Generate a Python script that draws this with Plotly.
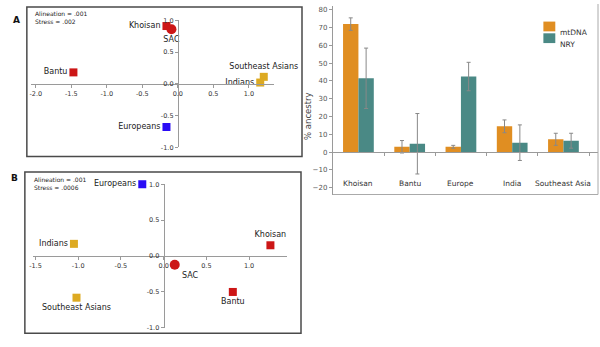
import plotly.graph_objects as go

# ---------------- data ----------------
mds_labels = ["Khoisan", "SAC", "Bantu", "Southeast Asians", "Indians", "Europeans"]
a_dim1 = [-0.16, -0.09, -1.47, 1.21, 1.16, -0.16]
a_dim2 = [0.91, 0.86, 0.18, 0.11, 0.02, -0.68]
b_dim1 = [1.25, 0.13, 0.81, -1.02, -1.05, -0.25]
b_dim2 = [0.15, -0.12, -0.50, -0.58, 0.17, 1.00]
a_stats = ["Alineation = .001", "Stress = .002"]
b_stats = ["Alineation = .001", "Stress = .0006"]

a_xticks = [-2.0, -1.5, -1.0, -0.5, 0.0, 0.5, 1.0]
b_xticks = [-1.5, -1.0, -0.5, 0.0, 0.5, 1.0]
mds_yticks = [-1.0, -0.5, 0.0, 0.5, 1.0]

categories = ["Khoisan", "Bantu", "Europe", "India", "Southeast Asia"]
mtdna = [72.0, 3.0, 3.0, 14.5, 7.2]
mtdna_err = [3.5, 3.5, 0.8, 3.6, 3.4]
nry = [41.5, 4.7, 42.5, 5.3, 6.4]
nry_err = [17.0, 17.0, 8.0, 10.0, 4.2]
bar_yticks = [-20, -10, 0, 10, 20, 30, 40, 50, 60, 70, 80]

# ---------------- styling / layout helpers ----------------
W, H = 600, 347
FONT = "DejaVu Sans"
RED, GOLD, BLUE = "#CC1616", "#DDAA22", "#2A0CF5"
ORANGE, TEAL = "#E08E22", "#4A8985"
AXC = "#9a9a9a"

pt_colors = [RED, RED, RED, GOLD, GOLD, BLUE]
pt_symbols = ["square", "circle", "square", "square", "square", "square"]
pt_sizes = [8, 10, 8, 8, 8, 8]


def px(x):
    return x / W


def py(y):
    return 1 - y / H


def fmt(v):
    return "%.1f" % v


fig = go.Figure()

panels = [
    dict(xs=a_dim1, ys=a_dim2, stats=a_stats, xt=a_xticks, x0=175, sx=71.5, y0=81.7, sy=65,
         xr=[-2.07, 1.35], box=(23, 3, 300, 156), letter=("A", 7, 9),
         tp=["middle left", "bottom center", "middle left", "top center", "middle left", "middle left"],
         ax="", stxy=(29, 4)),
    dict(xs=b_dim1, ys=b_dim2, stats=b_stats, xt=b_xticks, x0=160.7, sx=86, y0=258, sy=73.5,
         xr=[-1.53, 1.45], box=(21, 172, 299, 337), letter=("B", 5, 178),
         tp=["top center", "bottom right", "bottom center", "bottom center", "middle left", "middle left"],
         ax="2", stxy=(28, 174)),
]

shapes = []
annotations = []
layout_axes = {}

for p in panels:
    xa = "x" + p["ax"]
    ya = "y" + p["ax"]
    fig.add_trace(go.Scatter(
        x=p["xs"], y=p["ys"], text=mds_labels, mode="markers+text",
        textposition=p["tp"], cliponaxis=False,
        marker=dict(color=pt_colors, symbol=pt_symbols, size=pt_sizes, opacity=1,
                    line=dict(width=0)),
        textfont=dict(family=FONT, size=8, color="#222"),
        xaxis=xa, yaxis=ya, hoverinfo="skip", showlegend=False,
    ))
    xdom = [px(p["x0"] + p["xr"][0] * p["sx"]), px(p["x0"] + p["xr"][1] * p["sx"])]
    ydom = [py(p["y0"] + p["sy"]), py(p["y0"] - p["sy"])]
    common = dict(showline=True, linecolor=AXC, linewidth=1, ticks="outside", ticklen=3,
                  tickcolor=AXC, showgrid=False, zeroline=False,
                  tickfont=dict(family=FONT, size=6.5, color="#333"))
    layout_axes["xaxis" + p["ax"]] = dict(
        domain=xdom, range=p["xr"], anchor="free", position=py(p["y0"]),
        tickvals=p["xt"], ticktext=[fmt(v) for v in p["xt"]], **common)
    layout_axes["yaxis" + p["ax"]] = dict(
        domain=ydom, range=[-1, 1], anchor="free", position=px(p["x0"]),
        tickvals=mds_yticks, ticktext=[fmt(v) for v in mds_yticks], **common)
    x0b, y0b, x1b, y1b = p["box"]
    shapes.append(dict(type="rect", xref="paper", yref="paper",
                       x0=px(x0b), x1=px(x1b), y0=py(y1b), y1=py(y0b),
                       line=dict(color="#4a4a4a", width=1.5)))
    annotations.append(dict(xref="paper", yref="paper", x=px(p["stxy"][0]), y=py(p["stxy"][1]),
                            xanchor="left", yanchor="top", align="left", showarrow=False,
                            text="<br>".join(p["stats"]),
                            font=dict(family=FONT, size=6, color="#222")))
    L, lx, ly = p["letter"]
    annotations.append(dict(xref="paper", yref="paper", x=px(lx), y=py(ly), showarrow=False,
                            text="<b>%s</b>" % L, font=dict(family=FONT, size=9, color="#111")))

# ---------------- bar chart ----------------
fig.add_trace(go.Bar(
    x=categories, y=mtdna, name="mtDNA", marker=dict(color=ORANGE, line=dict(width=0)),
    error_y=dict(type="data", array=mtdna_err, color="#888", thickness=1, width=2),
    xaxis="x3", yaxis="y3", hoverinfo="skip", showlegend=False))
fig.add_trace(go.Bar(
    x=categories, y=nry, name="NRY", marker=dict(color=TEAL, line=dict(width=0)),
    error_y=dict(type="data", array=nry_err, color="#888", thickness=1, width=2),
    xaxis="x3", yaxis="y3", hoverinfo="skip", showlegend=False))

bx0, bx1, btop, bbot = 331, 598, 2, 195
y80px, ym20px = 6, 188
sc = (ym20px - y80px) / 100.0
yr = [-20 - (bbot - ym20px) / sc, 80 + (y80px - btop) / sc]
cat_w = (589 - bx0) / 5.0
xr3 = [-0.5, 4.5 + (bx1 - 589) / cat_w]
zero_px = y80px + 80 * sc

layout_axes["yaxis3"] = dict(
    domain=[py(bbot), py(btop)], range=yr, anchor="x3", side="left",
    showline=True, linecolor=AXC, linewidth=1, ticks="outside", ticklen=3, tickcolor=AXC,
    tickvals=bar_yticks, showgrid=False, zeroline=False,
    tickfont=dict(family=FONT, size=7, color="#555"))
layout_axes["xaxis3"] = dict(
    domain=[px(bx0), px(bx1)], range=xr3, anchor="free", position=py(zero_px),
    type="category", showline=True, linecolor=AXC, linewidth=1, ticks="outside",
    tickson="boundaries", ticklen=3, tickcolor=AXC, showticklabels=False, showgrid=False,
    zeroline=False)

shapes.append(dict(type="line", xref="paper", yref="paper", x0=px(bx0), x1=px(bx1),
                   y0=py(bbot), y1=py(bbot), line=dict(color="#aaa", width=1)))
shapes.append(dict(type="line", xref="paper", yref="paper", x0=px(bx1), x1=px(bx1),
                   y0=py(bbot), y1=py(0), line=dict(color="#aaa", width=1)))

for c in categories:
    annotations.append(dict(xref="x3", yref="y3", x=c, y=-17.6, showarrow=False, text=c,
                            font=dict(family=FONT, size=7.5, color="#333")))

annotations.append(dict(xref="paper", yref="paper", x=px(306), y=py(88), showarrow=False,
                        text="% ancestry", textangle=-90,
                        font=dict(family=FONT, size=8.5, color="#444")))

# manual legend
for i, (nm, col) in enumerate([("mtDNA", ORANGE), ("NRY", TEAL)]):
    cy = 23 + 12 * i
    shapes.append(dict(type="rect", xref="paper", yref="paper",
                       x0=px(543), x1=px(555), y0=py(cy + 5), y1=py(cy - 5),
                       fillcolor=col, line=dict(width=0)))
    annotations.append(dict(xref="paper", yref="paper", x=px(558), y=py(cy), xanchor="left",
                            showarrow=False, text=nm,
                            font=dict(family=FONT, size=7.5, color="#333")))

fig.update_layout(
    width=W, height=H, margin=dict(l=0, r=0, t=0, b=0),
    paper_bgcolor="white", plot_bgcolor="white",
    barmode="group", bargap=0.4, bargroupgap=0,
    showlegend=False, shapes=shapes, annotations=annotations,
    font=dict(family=FONT), **layout_axes)

fig.write_html("out.html")
